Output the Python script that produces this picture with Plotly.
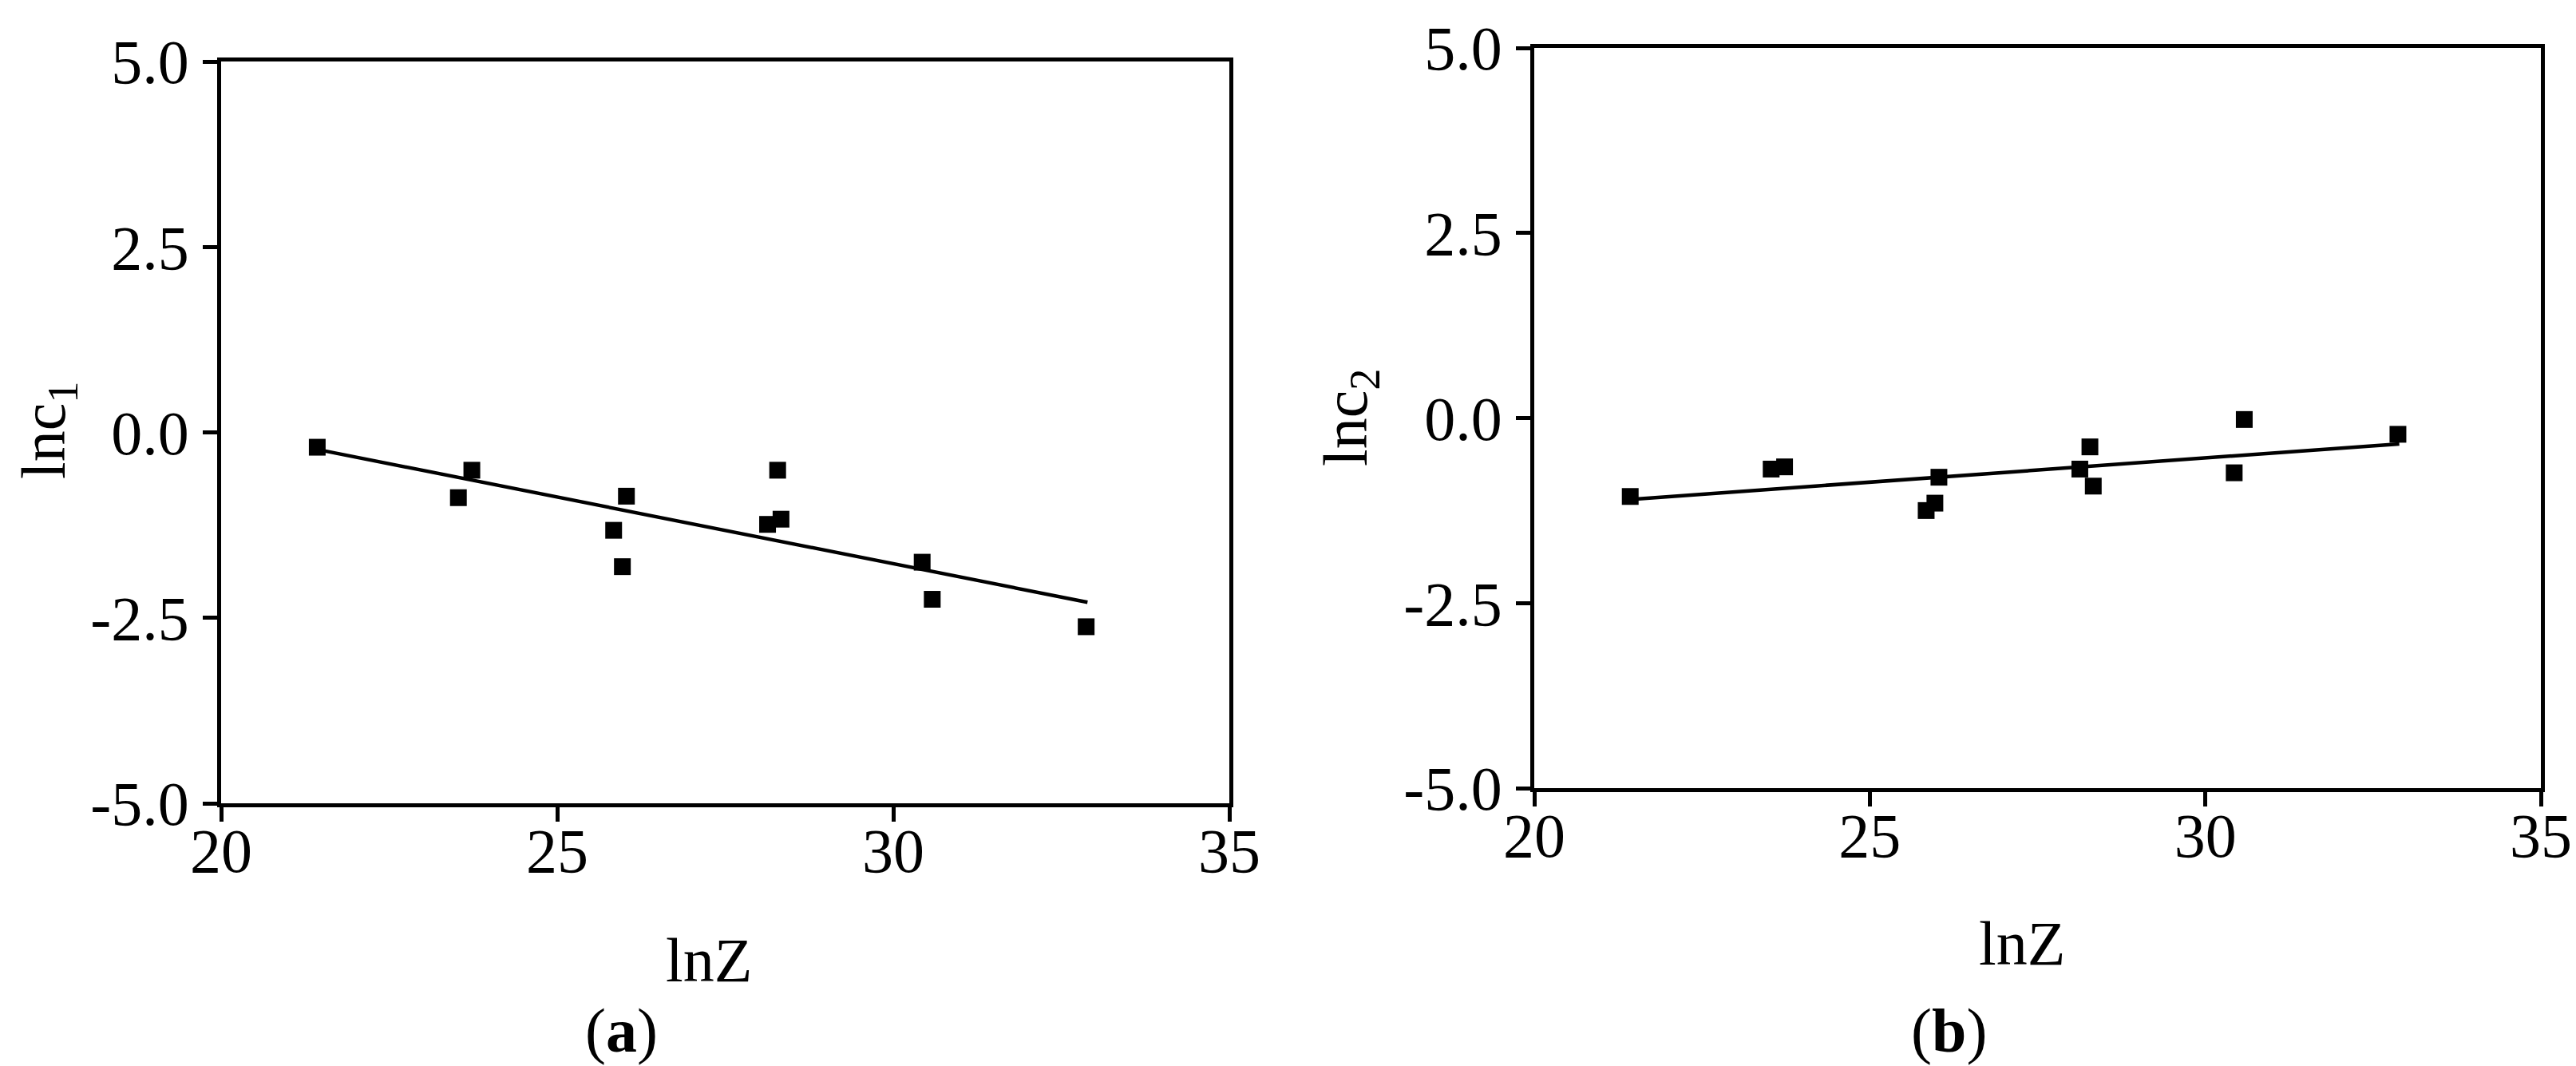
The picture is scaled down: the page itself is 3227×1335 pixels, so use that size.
import plotly.graph_objects as go

# ---- data ----
lnZ = [21.43, 23.53, 23.73, 25.84, 25.97, 26.03, 28.13, 28.28, 28.33, 30.43, 30.58, 32.87]
lnc1 = [-0.20, -0.88, -0.51, -1.32, -1.81, -0.86, -1.24, -0.51, -1.17, -1.75, -2.25, -2.62]
lnc2 = [-1.06, -0.69, -0.66, -1.25, -1.15, -0.80, -0.69, -0.39, -0.92, -0.74, -0.02, -0.22]

fit_x = [21.43, 32.89]
fit_y1 = [-0.23, -2.29]
fit_y2 = [-1.10, -0.35]

x_tickvals = [20, 25, 30, 35]
x_ticktext = ["20", "25", "30", "35"]
y_tickvals = [-5.0, -2.5, 0.0, 2.5, 5.0]
y_ticktext = ["-5.0", "-2.5", "0.0", "2.5", "5.0"]

W, H = 3227, 1335
FONT = "Liberation Serif, Times New Roman, serif"
TICKSIZE = 78

fig = go.Figure()

for xa, ya, yvals, fy in [("x", "y", lnc1, fit_y1), ("x2", "y2", lnc2, fit_y2)]:
    fig.add_trace(go.Scatter(x=fit_x, y=fy, mode="lines", xaxis=xa, yaxis=ya,
                             line=dict(color="black", width=4.5), showlegend=False))
    fig.add_trace(go.Scatter(x=lnZ, y=yvals, mode="markers", xaxis=xa, yaxis=ya,
                             marker=dict(symbol="square", size=21, color="black",
                                         line=dict(width=0)),
                             showlegend=False))

def px_x(p):
    return p / W

def px_y(p):
    return 1 - p / H

axis_common = dict(showgrid=False, zeroline=False, showline=True, linecolor="black",
                   linewidth=4.5, mirror=True, ticks="outside", ticklen=18, tickwidth=4.5,
                   tickcolor="black", automargin=False,
                   tickfont=dict(family=FONT, size=TICKSIZE, color="black"))

fig.update_layout(
    width=W, height=H,
    margin=dict(l=0, r=0, t=0, b=0, autoexpand=False),
    paper_bgcolor="white", plot_bgcolor="white",
    xaxis=dict(domain=[px_x(269), px_x(1532)], range=[20, 35], anchor="y",
               tickvals=x_tickvals, ticktext=x_ticktext, ticklabelstandoff=-30, **axis_common),
    yaxis=dict(domain=[px_y(998), px_y(69)], range=[-5, 5], anchor="x",
               tickvals=y_tickvals, ticktext=y_ticktext, ticklabelstandoff=2, **axis_common),
    xaxis2=dict(domain=[px_x(1914), px_x(3175)], range=[20, 35], anchor="y2",
                tickvals=x_tickvals, ticktext=x_ticktext, ticklabelstandoff=-30, **axis_common),
    yaxis2=dict(domain=[px_y(979), px_y(52)], range=[-5, 5], anchor="x2",
                tickvals=y_tickvals, ticktext=y_ticktext, ticklabelstandoff=2, **axis_common),
)

ann_font = dict(family=FONT, size=TICKSIZE, color="black")
annotations = [
    dict(text="lnZ", x=px_x(880), y=px_y(1194)),
    dict(text="lnZ", x=px_x(2525), y=px_y(1173)),
    dict(text="lnc<sub>1</sub>", x=px_x(52), y=px_y(531), textangle=-90),
    dict(text="lnc<sub>2</sub>", x=px_x(1683), y=px_y(515), textangle=-90),
    dict(text="(<b>a</b>)", x=px_x(770), y=px_y(1282)),
    dict(text="(<b>b</b>)", x=px_x(2433), y=px_y(1282)),
]
for a in annotations:
    fig.add_annotation(xref="paper", yref="paper", showarrow=False,
                       xanchor="center", yanchor="middle", font=ann_font, **a)

fig.write_html("out.html")
